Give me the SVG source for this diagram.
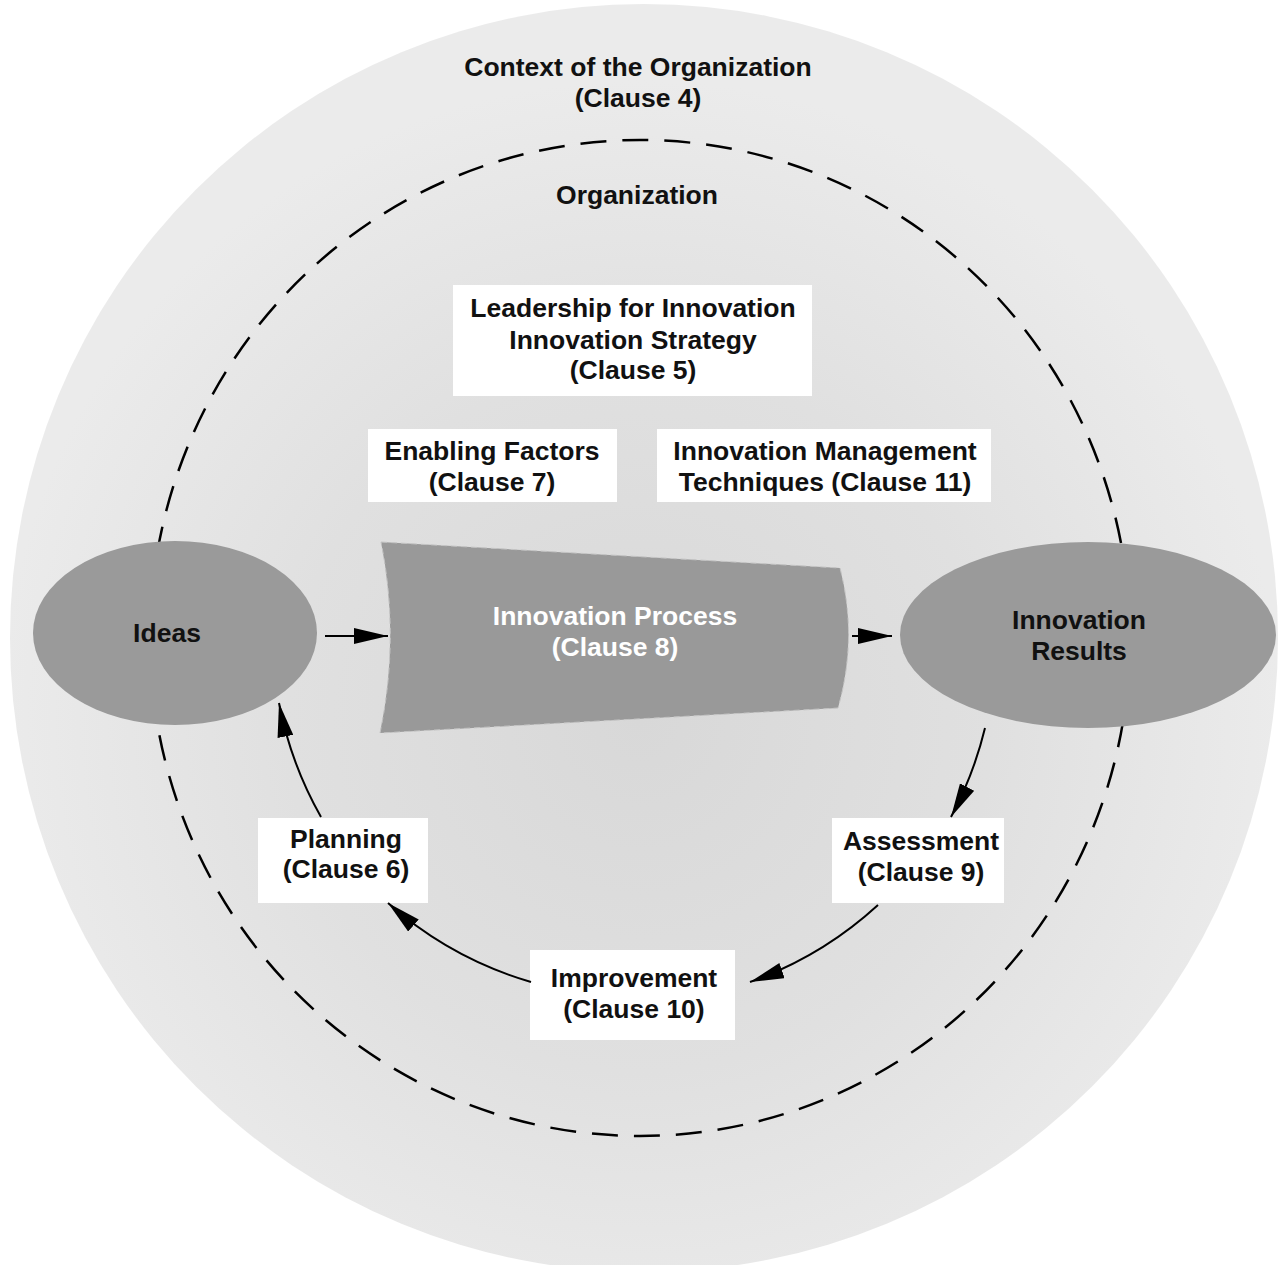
<svg xmlns="http://www.w3.org/2000/svg" width="1286" height="1265" viewBox="0 0 1286 1265">
<style>
  .t{font-family:"Liberation Sans",Arial,sans-serif;font-weight:bold;font-size:26.5px;fill:#111;text-anchor:middle}
  .w{fill:#ffffff}
  .box{fill:#ffffff}
  .conn{fill:none;stroke:#000;stroke-width:2}
  .ell{fill:#9a9a9a}
</style>
<defs>
  <radialGradient id="bg" cx="640" cy="720" r="640" gradientUnits="userSpaceOnUse">
    <stop offset="0" stop-color="#d8d8d8"/>
    <stop offset="0.55" stop-color="#e0e0e0"/>
    <stop offset="1" stop-color="#ebebeb"/>
  </radialGradient>
  <marker id="ah" markerUnits="userSpaceOnUse" markerWidth="34" markerHeight="16" refX="34" refY="8" orient="auto" viewBox="0 0 34 16">
    <path d="M0,0 L34,8 L0,16 z" fill="#000"/>
  </marker>
</defs>
<rect x="0" y="0" width="1286" height="1265" fill="#ffffff"/>
<g id="context">
  <circle cx="644" cy="638" r="634" fill="url(#bg)"/>
  <text class="t" x="638" y="76">Context of the Organization</text>
  <text class="t" x="638" y="107">(Clause 4)</text>
</g>
<g id="organization">
  <ellipse cx="640" cy="638" rx="490" ry="498" fill="none" stroke="#000" stroke-width="2.5" stroke-dasharray="26 16"/>
  <text class="t" x="637" y="204">Organization</text>
</g>
<g id="leadership">
  <rect class="box" x="453" y="285" width="359" height="111"/>
  <text class="t" x="633" y="317">Leadership for Innovation</text>
  <text class="t" x="633" y="349">Innovation Strategy</text>
  <text class="t" x="633" y="379">(Clause 5)</text>
</g>
<g id="enabling">
  <rect class="box" x="368" y="429" width="249" height="73"/>
  <text class="t" x="492" y="460">Enabling Factors</text>
  <text class="t" x="492" y="491">(Clause 7)</text>
</g>
<g id="techniques">
  <rect class="box" x="657" y="429" width="334" height="73"/>
  <text class="t" x="825" y="460">Innovation Management</text>
  <text class="t" x="825" y="491">Techniques (Clause 11)</text>
</g>
<g id="ideas">
  <ellipse class="ell" cx="175" cy="633" rx="142" ry="92"/>
  <text class="t" x="167" y="642">Ideas</text>
</g>
<g id="process">
  <path d="M381,542 L840,568 Q858,638 838,708 L380,733 Q400,637 381,542 z" fill="#999999" stroke="#c4c4c4" stroke-width="1" stroke-dasharray="6 4"/>
  <text class="t w" x="615" y="625">Innovation Process</text>
  <text class="t w" x="615" y="656">(Clause 8)</text>
</g>
<g id="results">
  <ellipse class="ell" cx="1088" cy="635" rx="188" ry="93"/>
  <text class="t" x="1079" y="629">Innovation</text>
  <text class="t" x="1079" y="660">Results</text>
</g>
<g id="planning">
  <rect class="box" x="258" y="818" width="170" height="85"/>
  <text class="t" x="346" y="848">Planning</text>
  <text class="t" x="346" y="878">(Clause 6)</text>
</g>
<g id="assessment">
  <rect class="box" x="832" y="818" width="172" height="85"/>
  <text class="t" x="921" y="850">Assessment</text>
  <text class="t" x="921" y="881">(Clause 9)</text>
</g>
<g id="improvement">
  <rect class="box" x="530" y="950" width="205" height="90"/>
  <text class="t" x="634" y="987">Improvement</text>
  <text class="t" x="634" y="1018">(Clause 10)</text>
</g>
<g id="connectors">
  <path class="conn" d="M325,636 L388,636" marker-end="url(#ah)"/>
  <path class="conn" d="M852,636 L892,636" marker-end="url(#ah)"/>
  <path class="conn" d="M985,728 A375 375 0 0 1 951,817" marker-end="url(#ah)"/>
  <path class="conn" d="M878,905 A375 375 0 0 1 750,982" marker-end="url(#ah)"/>
  <path class="conn" d="M531,982 A375 375 0 0 1 388,903" marker-end="url(#ah)"/>
  <path class="conn" d="M321,817 A375 375 0 0 1 279,703" marker-end="url(#ah)"/>
</g>
</svg>
